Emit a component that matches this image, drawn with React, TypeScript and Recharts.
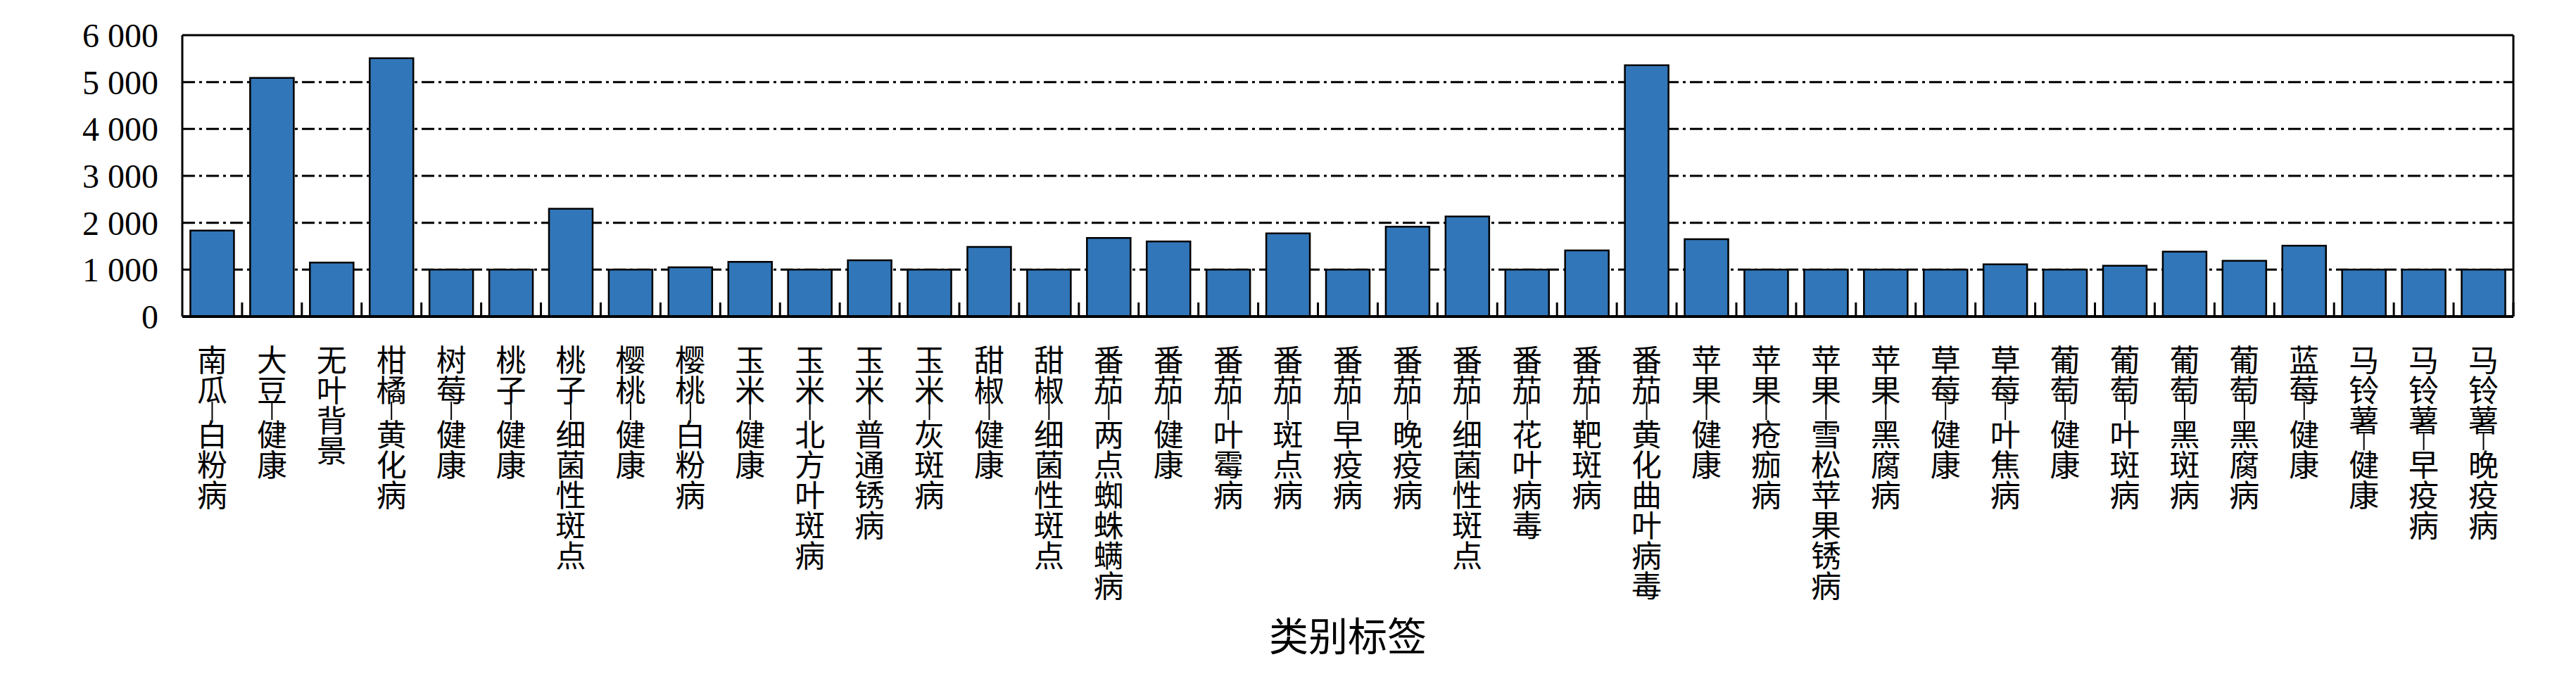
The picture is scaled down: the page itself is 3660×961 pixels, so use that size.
import { Bar, BarChart, CartesianGrid, XAxis, YAxis } from 'recharts'

const CATEGORIES = [
  '南瓜_白粉病', '大豆_健康', '无叶背景', '柑橘_黄化病', '树莓_健康', '桃子_健康',
  '桃子_细菌性斑点', '樱桃_健康', '樱桃_白粉病', '玉米_健康', '玉米_北方叶斑病',
  '玉米_普通锈病', '玉米_灰斑病', '甜椒_健康', '甜椒_细菌性斑点', '番茄_两点蜘蛛螨病',
  '番茄_健康', '番茄_叶霉病', '番茄_斑点病', '番茄_早疫病', '番茄_晚疫病',
  '番茄_细菌性斑点', '番茄_花叶病毒', '番茄_靶斑病', '番茄_黄化曲叶病毒', '苹果_健康',
  '苹果_疮痂病', '苹果_雪松苹果锈病', '苹果_黑腐病', '草莓_健康', '草莓_叶焦病',
  '葡萄_健康', '葡萄_叶斑病', '葡萄_黑斑病', '葡萄_黑腐病', '蓝莓_健康',
  '马铃薯_健康', '马铃薯_早疫病', '马铃薯_晚疫病',
]

const COUNTS = [
  1835, 5090, 1150, 5510, 1000, 1000, 2300, 1000, 1050, 1165, 1000, 1200, 1000,
  1485, 1000, 1675, 1600, 1000, 1775, 1000, 1915, 2135, 1000, 1410, 5360, 1650,
  1000, 1000, 1000, 1000, 1115, 1000, 1085, 1385, 1190, 1510, 1000, 1000, 1000,
]

const Y_TICKS = [0, 1000, 2000, 3000, 4000, 5000, 6000]
const GRID_VALUES = [1000, 2000, 3000, 4000, 5000]

const SERIF = "'Liberation Serif', 'Times New Roman', serif"
const CJK = "'Noto Sans CJK SC', sans-serif"

const data = CATEGORIES.map((name, i) => ({ name, count: COUNTS[i] }))

// 6000 -> "6 000"
const fmt = (v: number) => String(v).replace(/\B(?=(\d{3})+(?!\d))/g, ' ')

// 竖排标签：一字一行，"_" 画成短竖线；另在类别分界处画向上的刻度
function CategoryTick(props: any) {
  const { x, y, payload, width, visibleTicksCount } = props
  const half = payload.offset ?? width / visibleTicksCount / 2
  const pitch = 43
  const spans: any[] = []
  const seps: any[] = []
  let cursor = y + 37
  Array.from(payload.value as string).forEach((ch, i) => {
    if (ch === '_') {
      seps.push(
        <line key={i} x1={x} x2={x} y1={cursor - 2} y2={cursor + 24} stroke="#000" strokeWidth={2} />,
      )
      cursor += 20
    } else {
      spans.push(
        <tspan key={i} x={x} y={cursor + pitch / 2}>
          {ch}
        </tspan>,
      )
      cursor += pitch
    }
  })
  return (
    <g>
      <line x1={x + half} x2={x + half} y1={y} y2={y - 20} stroke="#000" strokeWidth={3} />
      {seps}
      <text
        textAnchor="middle"
        dominantBaseline="central"
        fontSize={43}
        fontFamily={CJK}
        fill="#000"
      >
        {spans}
      </text>
    </g>
  )
}

export default function App() {
  return (
    <BarChart
      width={3644}
      height={945}
      data={data}
      margin={{ top: 42, right: 81, bottom: 13, left: 51 }}
      barCategoryGap="13.5%"
      style={{ fontFamily: SERIF }}
    >
      <CartesianGrid
        vertical={false}
        horizontalValues={GRID_VALUES}
        stroke="#000"
        strokeWidth={3}
        strokeDasharray="18 6 4 6"
      />
      <CartesianGrid
        horizontalCoordinatesGenerator={({ offset }: any) => [offset.top]}
        verticalCoordinatesGenerator={({ offset }: any) => [offset.left + offset.width]}
        stroke="#000"
        strokeWidth={3}
      />
      <XAxis
        dataKey="name"
        interval={0}
        height={490}
        tickLine={false}
        tickSize={0}
        tickMargin={0}
        axisLine={{ stroke: '#000', strokeWidth: 4 }}
        tick={<CategoryTick />}
        label={{
          value: '类别标签',
          position: 'insideBottom',
          offset: 15,
          style: { fontSize: 56, fontFamily: CJK, fill: '#000' },
        }}
      />
      <YAxis
        domain={[0, 6000]}
        ticks={Y_TICKS}
        tickFormatter={fmt}
        width={200}
        tickLine={false}
        tickSize={0}
        tickMargin={34}
        axisLine={{ stroke: '#000', strokeWidth: 3 }}
        tick={{ fontSize: 48, fill: '#000', fontFamily: SERIF }}
      />
      <Bar
        dataKey="count"
        fill="#3176b8"
        stroke="#000"
        strokeWidth={2.5}
        isAnimationActive={false}
      />
    </BarChart>
  )
}
